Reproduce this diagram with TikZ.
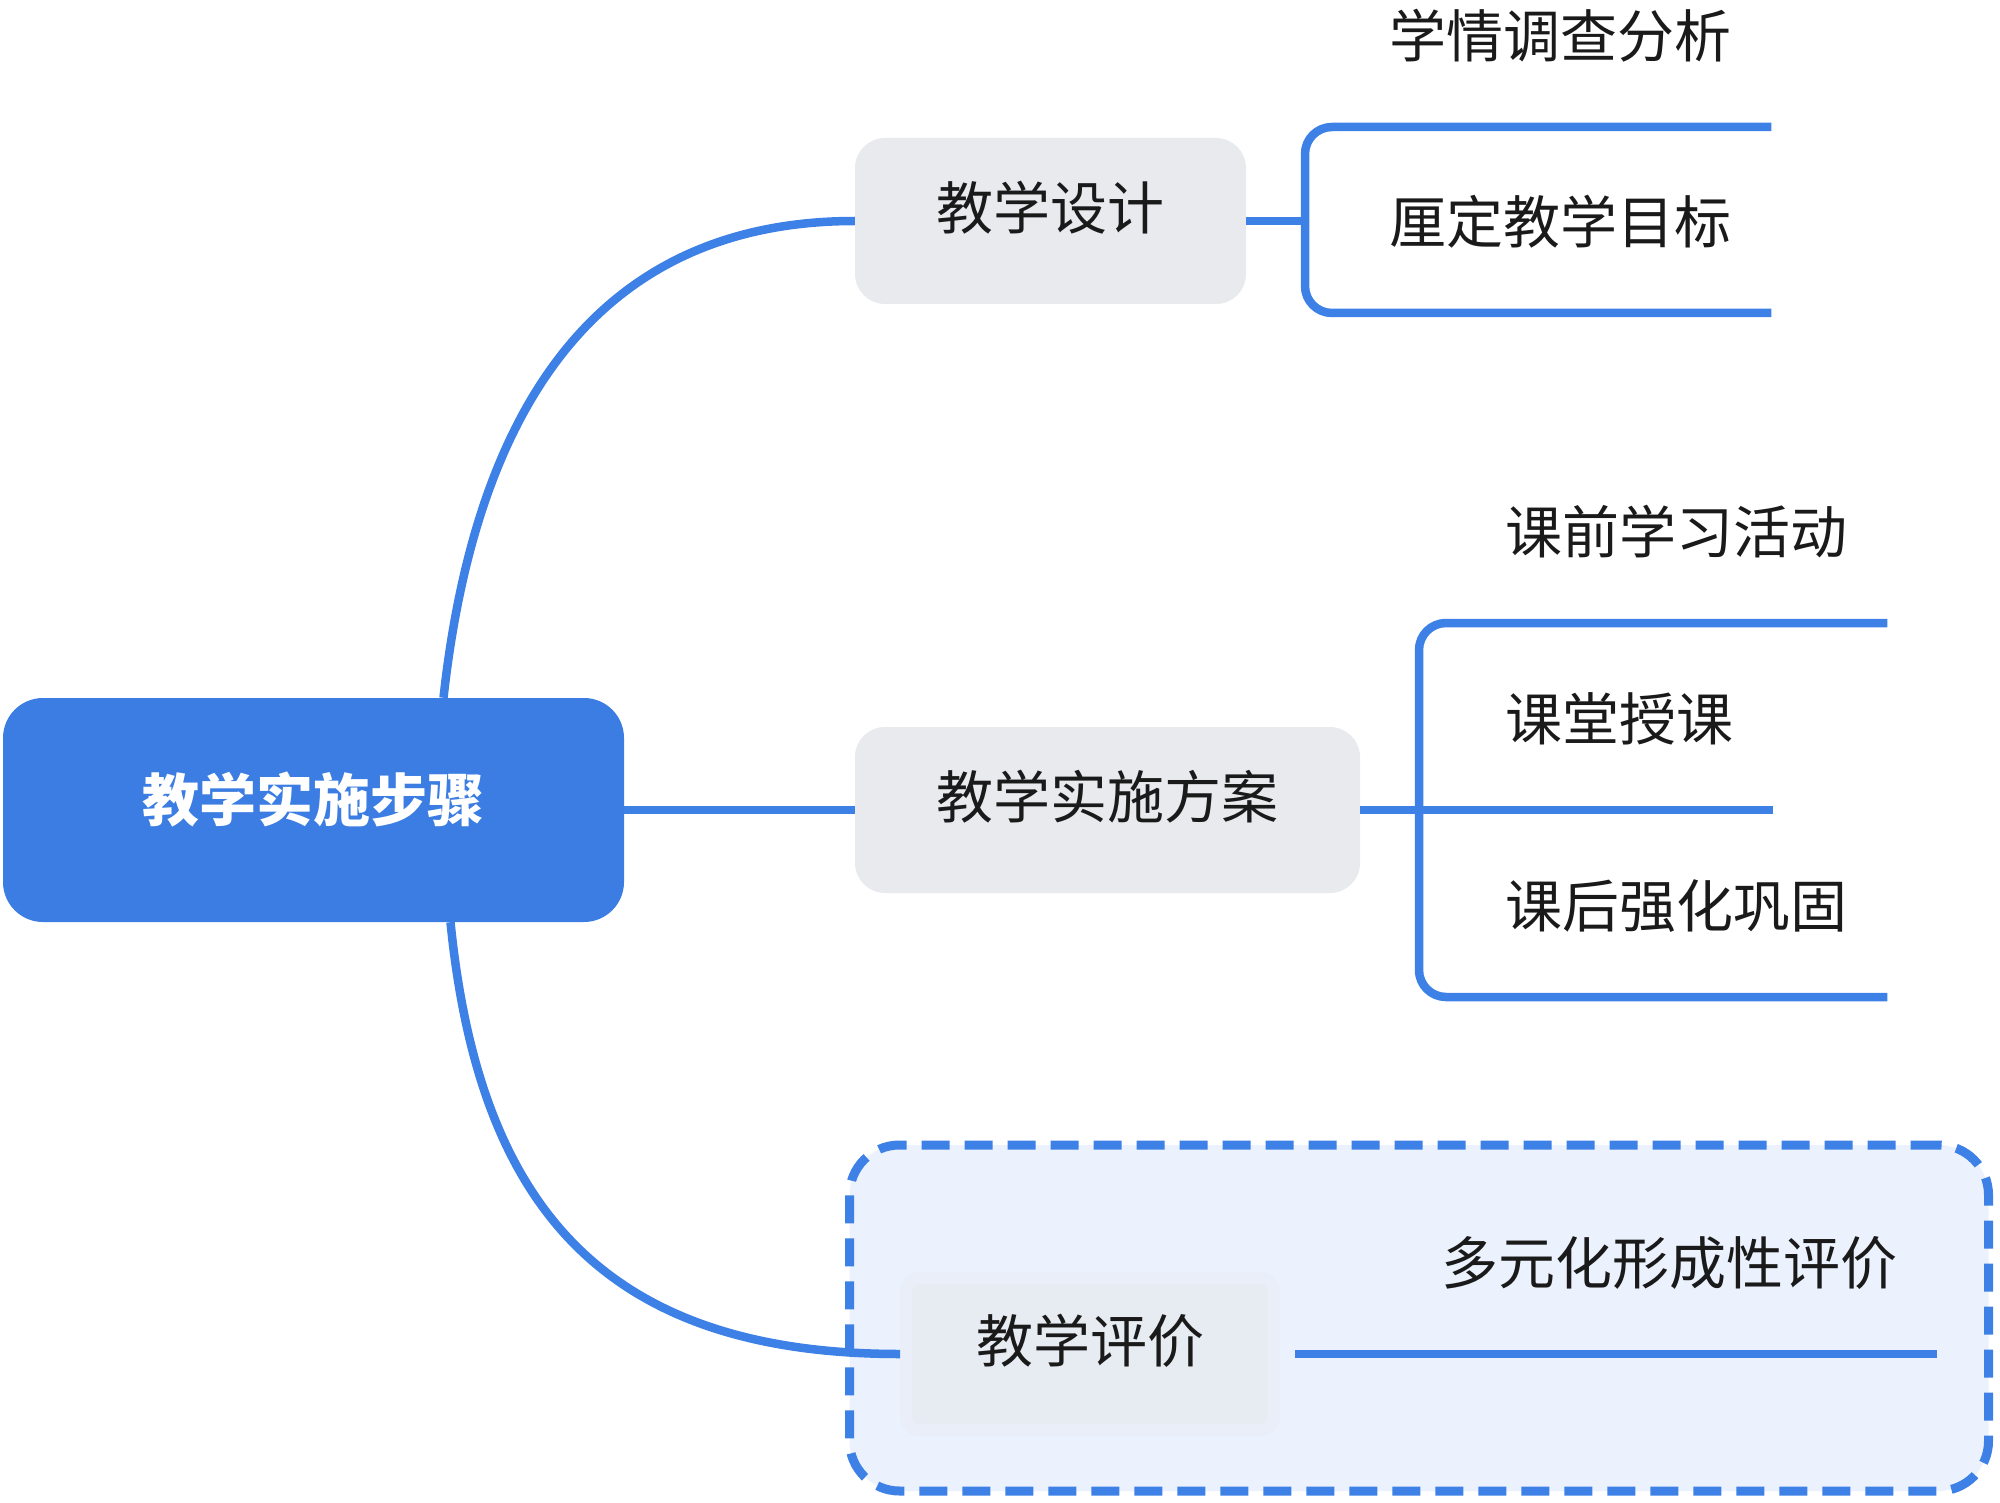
\documentclass[tikz,border=0pt]{standalone}
\usepackage{fontspec}
\usepackage{tikz}
\usetikzlibrary{calc}
\newfontfamily\cjk{Noto Sans CJK SC}
\definecolor{mapblue}{HTML}{3D80E6}
\definecolor{rootblue}{HTML}{3B7DE2}
\definecolor{topicgray}{HTML}{E8EAEE}
\definecolor{framefill}{HTML}{EBF2FD}
\definecolor{evalgray}{HTML}{E7EBF2}
\definecolor{inkblack}{HTML}{1A1A1A}

\begin{document}
\begin{tikzpicture}[x=1pt, y=-1pt,
    root/.style={fill=rootblue, rounded corners=40pt, inner sep=0pt,
        minimum width=621pt, minimum height=224pt, text=white,
        font=\cjk\bfseries\fontsize{57}{57}\selectfont, text height=46pt, text depth=22.6pt},
    topic/.style={fill=topicgray, rounded corners=30pt, inner sep=0pt,
        minimum height=166pt, text=inkblack,
        font=\cjk\fontsize{57}{57}\selectfont, text height=42pt, text depth=24.6pt},
    leaf/.style={anchor=west, inner sep=0pt, text=inkblack,
        font=\cjk\fontsize{57}{57}\selectfont, text height=47pt, text depth=4pt},
    branch/.style={draw=mapblue, line width=8.5pt},
    frame/.style={draw=mapblue, fill=framefill, line width=9pt,
        dash pattern=on 28pt off 15pt, rounded corners=50pt,
        minimum width=1139pt, minimum height=346pt}]
    \useasboundingbox (0,0) rectangle (2000,1503);
    % main topics
    \node[root] (root) at (313.5,810) {教学实施步骤};
    \node[topic, minimum width=391pt] (design) at (1050.5,221) {教学设计};
    \node[topic, minimum width=505pt] (plan) at (1107.5,810) {教学实施方案};
    \node[frame] (evalframe) at (1419,1318) {};
    \node[topic, fill=evalgray, draw=evalgray!50!framefill, line width=12pt, rounded corners=14pt,
        minimum width=368pt, minimum height=152pt] (eval) at (1090,1354) {教学评价};
    % sub topics
    \node[leaf] (l1) at (1389,36) {学情调查分析};
    \node[leaf] (l2) at (1389,222) {厘定教学目标};
    \node[leaf] (l3) at (1505,532) {课前学习活动};
    \node[leaf] (l4) at (1505,719) {课堂授课};
    \node[leaf] (l5) at (1505,906) {课后强化巩固};
    \node[leaf] (l6) at (1441,1263) {多元化形成性评价};
    \coordinate (fork1) at (1305,221);
    \coordinate (fork2) at (1419,810);
    % connectors
    \draw[branch] ([xshift=130pt]root.north) .. controls +(33,-300) and +(-250,0) .. (design.west);
    \draw[branch] (root.east) -- (plan.west);
    \draw[branch] ([xshift=137pt]root.south) .. controls +(28,280) and +(-300,0) .. (eval.west);
    \draw[branch] (design.east) -- (fork1);
    \draw[branch, rounded corners=27pt] ($(l1.east)+(40,91)$) -| (fork1) |- ($(l2.east)+(40,91)$);
    \draw[branch, rounded corners=27pt] ($(l3.east)+(40,91)$) -| (fork2) |- ($(l5.east)+(40,91)$);
    \draw[branch] (plan.east) -- ($(l4.east)+(40,91)$);
    \draw[branch] ([xshift=15pt]eval.east) -- ($(l6.east)+(40,91)$);
\end{tikzpicture}
\end{document}
